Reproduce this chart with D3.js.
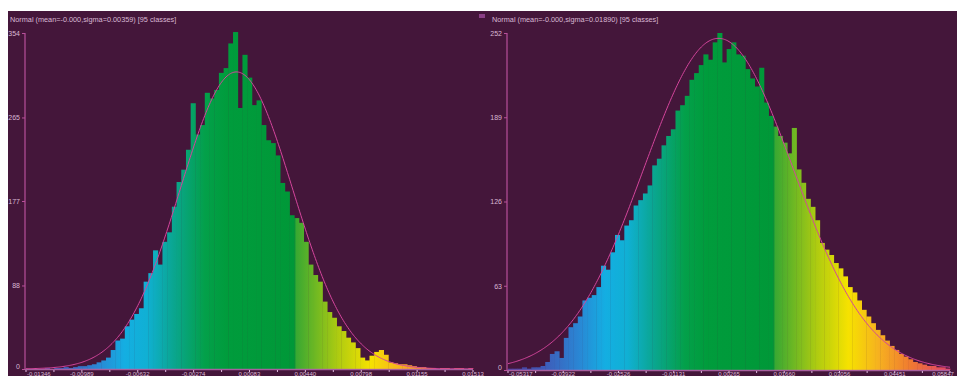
<!DOCTYPE html>
<html><head><meta charset="utf-8">
<script src="https://cdn.jsdelivr.net/npm/d3@7"></script>
<style>html,body{margin:0;padding:0;background:#fff;}svg{display:block;}</style>
</head><body>
<script>
// ---------- data ----------
const titles = ["Normal (mean=-0.000,sigma=0.00359) [95 classes]", "Normal (mean=-0.000,sigma=0.01890) [95 classes]"];
const means = [-0.000, -0.000];
const sigmas = [0.00359, 0.01890];
const curvePeaks = [313, 248];
const xDomains = [[-0.01346, 0.01513], [-0.05317, 0.05847]];
const yMaxes = [354, 252];
const yTicksLeft = [0, 88, 177, 265, 354];
const yTicksRight = [0, 63, 126, 189, 252];
const xTickLabelsLeft = ["-0.01346", "-0.00989", "-0.00632", "-0.00274", "0.00083", "0.00440", "0.00798", "0.01155", "0.01513"];
const xTickLabelsRight = ["-0.05317", "-0.03922", "-0.02526", "-0.01131", "0.00265", "0.01660", "0.03056", "0.04451", "0.05847"];
const leftCounts = [
  0,0,0,0,1,0,
  1,1,2,1,2,3,3,
  4,5,7,9,12,
  20,30,32,45,52,58,
  64,92,101,125,110,134,144,171,197,210,
  231,280,247,257,291,285,294,312,317,343,
  355,275,331,307,278,283,257,241,238,225,
  196,187,162,159,154,134,110,99,92,71,
  60,54,
  45,40,33,28,22,12,9,14,18,20,
  15,7,6,5,5,4,3,2,2,1,
  1,0,1,1,0,1,1,0,1
];
const rightCounts = [
  1,1,1,2,1,2,2,3,6,12,
  14,9,24,32,35,40,52,54,56,62,
  78,75,88,101,97,108,112,123,127,132,
  138,153,158,168,175,180,194,198,205,217,
  222,228,236,232,245,252,230,240,245,236,
  235,225,218,212,226,200,190,182,175,170,
  162,181,150,140,128,122,112,95,90,86,
  80,76,70,62,58,52,45,40,35,30,
  26,22,18,15,12,10,8,6,5,4,
  3,3,2,2,1
];
const gradStops = [0, 0.08, 0.16, 0.22, 0.27, 0.33, 0.40, 0.45, 0.60, 0.605, 0.70, 0.77, 0.84, 0.91, 1.0];
const gradColors = ["#4a3a9a","#3f5ab8","#2a86d4","#14aee2","#10b0d4","#0aa690","#03a04a","#009c3c","#009838","#3aa832","#b0cc10","#f6e200","#f6b020","#f07a30","#e0406a"];

// ---------- layout ----------
const W = 957, H = 376;
const panels = [
  {title: titles[0], mean: means[0], sigma: sigmas[0], peak: curvePeaks[0], xd: xDomains[0], ymax: yMaxes[0], yticks: yTicksLeft, xlabels: xTickLabelsLeft, counts: leftCounts,
   x0: 26, x1: 473, y0: 369, y1: 33, titleX: 10, icon: false},
  {title: titles[1], mean: means[1], sigma: sigmas[1], peak: curvePeaks[1], xd: xDomains[1], ymax: yMaxes[1], yticks: yTicksRight, xlabels: xTickLabelsRight, counts: rightCounts,
   x0: 508, x1: 950, y0: 370, y1: 33, titleX: 492, icon: true}
];

const svg = d3.select("body").append("svg").attr("width", W).attr("height", H);
const defs = svg.append("defs");
svg.append("rect").attr("x", 8).attr("y", 11).attr("width", W - 8).attr("height", H - 11).attr("fill", "#44163a");

const FONT = "'Liberation Sans', Arial, sans-serif";
const txtCol = "#d9b8d4";
const axisCol = "#b8509a";

panels.forEach((p, k) => {
  const x = d3.scaleLinear().domain(p.xd).range([p.x0, p.x1]);
  const y = d3.scaleLinear().domain([0, p.ymax]).range([p.y0, p.y1]);
  const n = p.counts.length;
  const bw = (p.xd[1] - p.xd[0]) / n;

  const gid = "grad" + k;
  const g = defs.append("linearGradient").attr("id", gid).attr("gradientUnits", "userSpaceOnUse")
    .attr("x1", p.x0).attr("x2", p.x1).attr("y1", 0).attr("y2", 0);
  gradStops.forEach((s, i) => g.append("stop").attr("offset", s).attr("stop-color", gradColors[i]));

  const cid = "clip" + k;
  defs.append("clipPath").attr("id", cid).append("rect")
    .attr("x", p.x0).attr("y", 12).attr("width", p.x1 - p.x0).attr("height", p.y0 - 12);

  const layer = svg.append("g");

  // bars
  layer.append("g").selectAll("rect").data(p.counts).join("rect")
    .attr("x", (d, i) => x(p.xd[0] + i * bw))
    .attr("width", (d, i) => x(p.xd[0] + (i + 1) * bw) - x(p.xd[0] + i * bw) + 0.4)
    .attr("y", d => y(d))
    .attr("height", d => p.y0 - y(d))
    .attr("fill", "url(#" + gid + ")");

  // baseline
  layer.append("line").attr("x1", p.x0 - 1).attr("x2", p.x1).attr("y1", p.y0 + 0.5).attr("y2", p.y0 + 0.5)
    .attr("stroke", "#c070b8").attr("stroke-width", 1.5).attr("opacity", 0.8);

  // normal curve
  const xs = d3.range(0, 401).map(i => p.xd[0] + (p.xd[1] - p.xd[0]) * i / 400);
  const line = d3.line().x(v => x(v)).y(v => y(p.peak * Math.exp(-0.5 * Math.pow((v - p.mean) / p.sigma, 2))));
  layer.append("path").attr("d", line(xs)).attr("fill", "none").attr("stroke", "#d4459c")
    .attr("stroke-width", 1).attr("clip-path", "url(#" + cid + ")");

  // y axis
  const yAxis = d3.axisLeft(y).tickValues(p.yticks).tickSize(3).tickPadding(2).tickFormat(d3.format("d"));
  const ya = svg.append("g").attr("transform", "translate(" + (p.x0 - 1) + ",0)").call(yAxis);
  ya.select(".domain").attr("stroke", axisCol).attr("stroke-width", 1.2).attr("d", "M0," + p.y1 + "V" + p.y0);
  ya.selectAll(".tick line").attr("stroke", axisCol);
  ya.selectAll(".tick text").attr("fill", txtCol).attr("font-family", FONT).attr("font-size", 7)
    .attr("dy", d => d === 0 ? "-0.05em" : "0.32em");

  // x axis ticks and labels
  const xt = p.xlabels.map(Number);
  const minor = d3.range(0, xt.length * 2 - 1).map(i => p.xd[0] + (p.xd[1] - p.xd[0]) * i / ((xt.length - 1) * 2));
  svg.append("g").selectAll("line").data(minor).join("line")
    .attr("x1", d => x(d)).attr("x2", d => x(d)).attr("y1", p.y0 + 1).attr("y2", p.y0 + 3)
    .attr("stroke", "#e0b8e0").attr("stroke-width", 1);
  svg.append("g").selectAll("text").data(p.xlabels).join("text")
    .attr("x", (d, i) => i === 0 ? p.x0 + 1 : Math.min(x(+d), W - 14))
    .attr("text-anchor", (d, i) => i === 0 ? "start" : "middle")
    .attr("y", 375.5)
    .attr("fill", txtCol).attr("font-family", FONT).attr("font-size", 6).text(d => d);

  // title
  if (p.icon) {
    svg.append("rect").attr("x", 479).attr("y", 14).attr("width", 6).attr("height", 4).attr("fill", "#8a3f86");
  }
  svg.append("text").attr("x", p.titleX).attr("y", 22).attr("fill", txtCol)
    .attr("font-family", FONT).attr("font-size", 7.3).text(p.title);
});
</script>
</body></html>
